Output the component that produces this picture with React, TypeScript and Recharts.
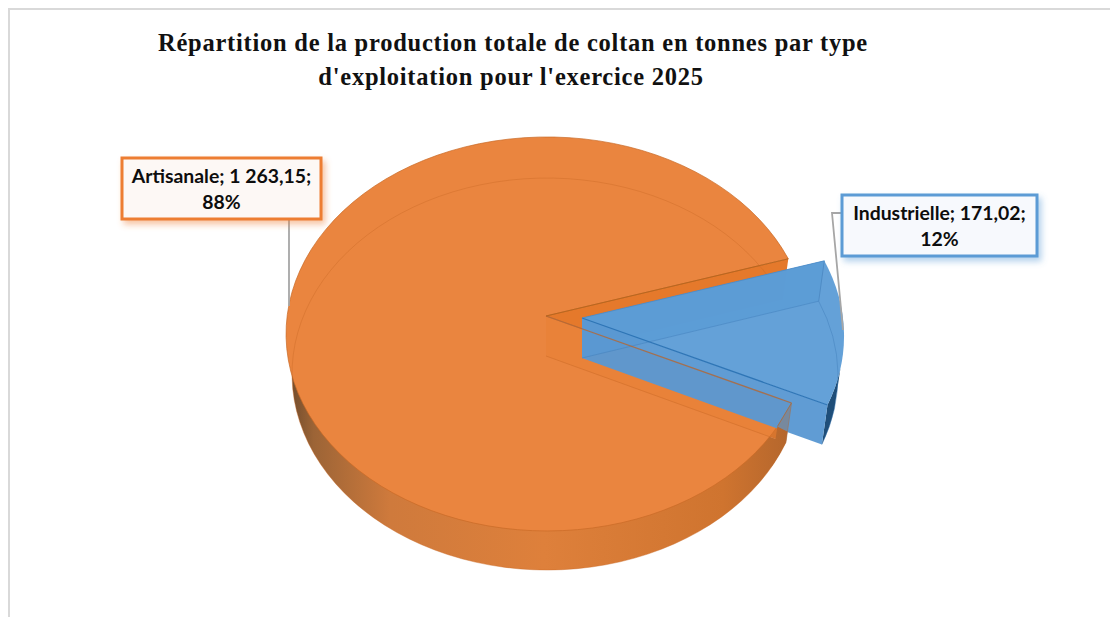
import { Pie, PieChart } from "recharts";

const categories = ["Artisanale", "Industrielle"];
const tonnes = [1263.15, 171.02];
const fills = ["#ea853f", "#5c9cd6"];
const titleLines = [
  "Répartition de la production totale de coltan en tonnes par type",
  "d'exploitation pour l'exercice 2025",
];

const pieData = categories.map((name, i) => ({ name, value: tonnes[i], fill: fills[i] }));

// the pie is a tilted disc: top face, then a smaller bottom face seen through it
const TOP_TILT = 197 / 261;
const LOW_TILT = 196 / 255;
const DEPTH = 40;
const PULL_X = 36; // how far Industrielle is pulled out
const PULL_Y = 2;
const APEX_LIFT = 18;

type Pt = [number, number];
type Ellipse = { cx: number; cy: number; rx: number; ry: number };

const onEllipse = (e: Ellipse, deg: number): Pt => {
  const a = (deg * Math.PI) / 180;
  return [e.cx + e.rx * Math.cos(a), e.cy - e.ry * Math.sin(a)];
};

const P = (p: Pt) => `${p[0].toFixed(1)} ${p[1].toFixed(1)}`;

const arcTo = (e: Ellipse, to: number, large: boolean, clockwise = true) =>
  `A ${e.rx} ${e.ry} 0 ${large ? 1 : 0} ${clockwise ? 1 : 0} ${P(onEllipse(e, to))}`;

const wedge = (e: Ellipse, apex: Pt, start: number, end: number) => {
  const large = Math.abs(end - start) > 180;
  return `M ${P(apex)} L ${P(onEllipse(e, start))} ${arcTo(e, end, large)} Z`;
};

const quad = (a: Pt, b: Pt, c: Pt, d: Pt) => `M ${P(a)} L ${P(b)} L ${P(c)} L ${P(d)} Z`;

const mix = (a: Pt, b: Pt, t: number): Pt => [a[0] + (b[0] - a[0]) * t, a[1] + (b[1] - a[1]) * t];

const renderSlice = (props: any) => {
  const { cx, cy, outerRadius: r, startAngle, endAngle, fill, index } = props;
  const isPulled = index === 1;
  const tx = cx + (isPulled ? PULL_X : 0);
  const ty = cy + (isPulled ? PULL_Y : 0);
  const top: Ellipse = { cx: tx, cy: ty, rx: r, ry: r * TOP_TILT };
  const low: Ellipse = { cx: tx, cy: ty + DEPTH, rx: r - 6, ry: (r - 6) * LOW_TILT };
  const apex: Pt = [tx - 1, ty - APEX_LIFT];
  const apexLow: Pt = [tx - 1, ty + DEPTH - APEX_LIFT];
  const topStart = onEllipse(top, startAngle);
  const topEnd = onEllipse(top, endAngle);
  const lowStart = onEllipse(low, startAngle);
  const lowEnd = onEllipse(low, endAngle);

  if (!isPulled) {
    return (
      <g>
        <path d={wedge(low, apexLow, startAngle, endAngle)} fill="url(#orangeWall)" />
        <path d={quad(apex, topStart, lowStart, apexLow)} fill="#d27430" />
        <path d={quad(apex, topEnd, lowEnd, apexLow)} fill="#e5792b" />
        <path d={wedge(top, apex, startAngle, endAngle)} fill={fill} stroke="#c96a26" strokeWidth={0.7} />
        <path d={quad(apex, topStart, lowStart, apexLow)} fill="#e5792b" fillOpacity={0.28} />
        <path
          d={`M ${P(lowEnd)} ${arcTo(low, startAngle, true, false)}`}
          fill="none"
          stroke="#c96a26"
          strokeOpacity={0.6}
          strokeWidth={0.7}
        />
        <path d={`M ${P(apexLow)} L ${P(lowStart)}`} stroke="#c96a26" strokeOpacity={0.7} strokeWidth={0.7} />
      </g>
    );
  }

  // endAngle is the lower edge of this slice, startAngle the upper one
  const sliverFrom = endAngle + 11;
  const orangeTop: Ellipse = { cx, cy, rx: r, ry: r * TOP_TILT };
  const orangeLow: Ellipse = { cx, cy: cy + DEPTH, rx: r - 6, ry: (r - 6) * LOW_TILT };
  const orangeApex: Pt = [cx - 1, cy - APEX_LIFT];
  const cutTop = onEllipse(orangeTop, endAngle);
  const cutLow = onEllipse(orangeLow, endAngle);
  // where the blue wall's lower edge runs into the orange disc
  const crossArc = onEllipse(orangeTop, endAngle - 7.5);
  const crossCut = mix(cutTop, cutLow, 0.72);
  return (
    <g>
      <path
        d={`M ${P(onEllipse(top, sliverFrom))} ${arcTo(top, endAngle, false)} L ${P(lowEnd)} ${arcTo(low, sliverFrom, false, false)} Z`}
        fill="#1f4e79"
      />
      <path d={quad(apex, topStart, lowStart, apexLow)} fill={fill} fillOpacity={0.9} />
      <path d={wedge(top, apex, startAngle, endAngle)} fill={fill} fillOpacity={0.95} />
      <path d={quad(apex, topEnd, lowEnd, apexLow)} fill="#5a98d2" fillOpacity={0.96} />
      <path d={`M ${P(apexLow)} L ${P(lowStart)} ${arcTo(low, endAngle, false)}`} fill="none" stroke="#3f7cb8" strokeOpacity={0.55} strokeWidth={0.8} />
      <path d={`M ${P(topStart)} L ${P(lowStart)}`} stroke="#4a86c0" strokeWidth={0.8} />
      <path d={`M ${P(apex)} L ${P(topEnd)}`} stroke="#2e75b6" strokeWidth={1.2} />
      <path d={`M ${P(apex)} L ${P(topStart)}`} stroke="#4a8ac8" strokeWidth={0.8} />
      {/* orange wall comes back in front of the blue one, see-through above the crossing */}
      <path
        d={`M ${P(crossArc)} L ${P(crossCut)} L ${P(cutLow)} ${arcTo(orangeLow, endAngle - 8, false)} Z`}
        fill="url(#orangeWall)"
      />
      <path d={`M ${P(crossArc)} L ${P(cutTop)} L ${P(crossCut)} Z`} fill="#a5704a" fillOpacity={0.35} />
      {/* edges of the orange cut, seen through the blue slice */}
      <path d={`M ${P(cutTop)} L ${P(orangeApex)}`} stroke="#b0683a" strokeOpacity={0.85} strokeWidth={1.3} />
      <path d={`M ${P(onEllipse(orangeTop, startAngle))} L ${P(orangeApex)}`} stroke="#b5661f" strokeOpacity={0.9} strokeWidth={1} />
      <path d={`M ${P(cutTop)} L ${P(crossArc)}`} stroke="#a5704a" strokeWidth={1} />
      <path d={`M ${P(cutTop)} L ${P(cutLow)}`} stroke="#a5704a" strokeOpacity={0.7} strokeWidth={0.8} />
    </g>
  );
};

const labelBoxes = [
  { x: 122, y: 158, w: 199, h: 61, stroke: "#ed7d31", bg: "#fdf8f5", filter: "url(#shadowOrange)", leader: "M 289 219 L 289 306" },
  { x: 842, y: 195, w: 195, h: 61, stroke: "#5b9bd5", bg: "#f7f9fd", filter: "url(#shadowBlue)", leader: "M 842 213 L 832 213 L 843 330" },
];

const frenchNumber = (v: number) =>
  v
    .toFixed(2)
    .replace(".", ",")
    .replace(/\B(?=(\d{3})+(?!\d))/g, " ");

const renderLabel = (props: any) => {
  const { index, name, value, percent } = props;
  const box = labelBoxes[index];
  const mid = box.x + box.w / 2;
  return (
    <g>
      <path d={box.leader} fill="none" stroke="#a6a6a6" strokeWidth={1.8} />
      <rect x={box.x} y={box.y} width={box.w} height={box.h} fill={box.bg} stroke={box.stroke} strokeWidth={3} filter={box.filter} />
      <text x={mid} textAnchor="middle" fontFamily="Lato" fontWeight={700} fontSize={19.4} fill="#0d0d0d">
        <tspan x={mid} y={box.y + 25}>{`${name}; ${frenchNumber(value)};`}</tspan>
        <tspan x={mid} y={box.y + 51}>{`${Math.round(percent * 100)}%`}</tspan>
      </text>
    </g>
  );
};

export default function App() {
  return (
    <div style={{ position: "absolute", left: 0, top: 0, width: 1110, height: 617, background: "#fff", overflow: "hidden" }}>
      <div style={{ position: "absolute", left: 8, top: 8, width: 1110, height: 640, border: "2px solid #d9d9d9", boxSizing: "border-box" }} />
      <div style={{ position: "absolute", left: 0, top: 0 }}>
        <PieChart width={1110} height={617} margin={{ top: 0, right: 0, bottom: 0, left: 0 }}>
          <defs>
            <linearGradient id="orangeWall" gradientUnits="userSpaceOnUse" x1={288} y1={0} x2={800} y2={0}>
              <stop offset="0" stopColor="#6e4a2c" />
              <stop offset="0.05" stopColor="#9c6436" />
              <stop offset="0.2" stopColor="#cf7a3c" />
              <stop offset="0.5" stopColor="#de803b" />
              <stop offset="0.85" stopColor="#cf742f" />
              <stop offset="1" stopColor="#b0642c" />
            </linearGradient>
            <filter id="shadowOrange" x="-10%" y="-20%" width="125%" height="150%">
              <feDropShadow dx="3" dy="4" stdDeviation="3" floodColor="#ed7d31" floodOpacity="0.45" />
            </filter>
            <filter id="shadowBlue" x="-10%" y="-20%" width="125%" height="150%">
              <feDropShadow dx="3" dy="4" stdDeviation="3" floodColor="#5b9bd5" floodOpacity="0.45" />
            </filter>
          </defs>
          <text textAnchor="middle" fontFamily="Liberation Serif" fontWeight={700} fontSize={24.5} letterSpacing={0.75} fill="#111">
            <tspan x={513} y={51}>{titleLines[0]}</tspan>
            <tspan x={511} y={85}>{titleLines[1]}</tspan>
          </text>
          <Pie
            data={pieData}
            dataKey="value"
            nameKey="name"
            cx={547}
            cy={334}
            outerRadius={261}
            startAngle={-20.5}
            endAngle={-380.5}
            stroke="none"
            shape={renderSlice}
            label={renderLabel}
            labelLine={false}
            isAnimationActive={false}
          />
        </PieChart>
      </div>
    </div>
  );
}
